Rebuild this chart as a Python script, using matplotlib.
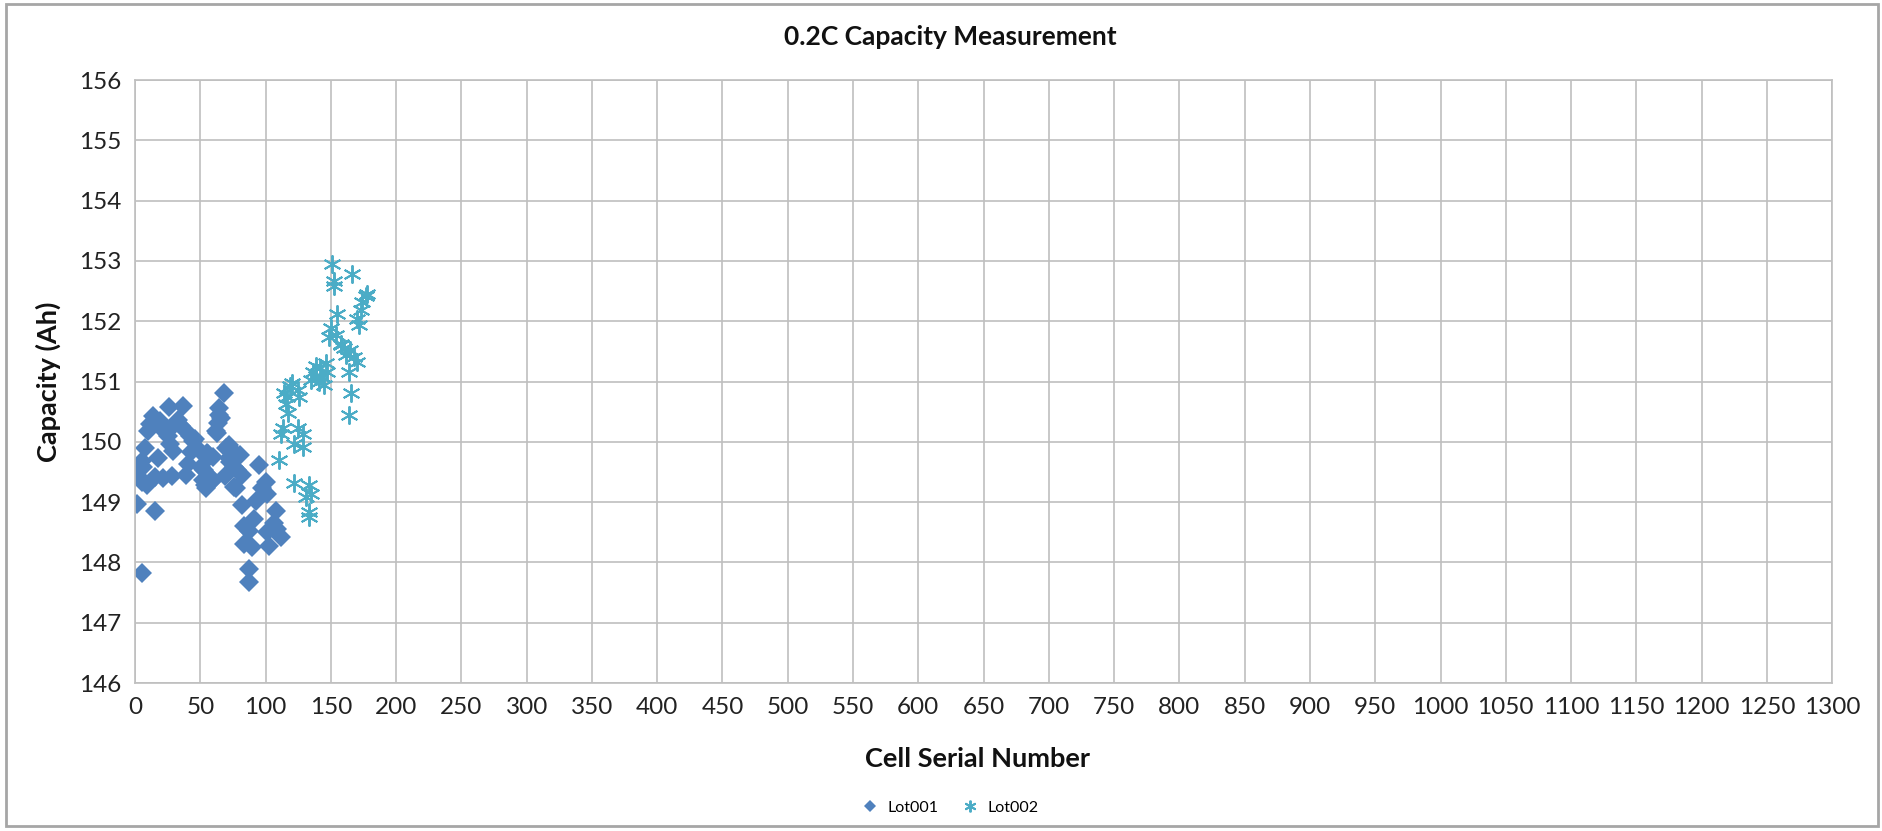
import matplotlib.pyplot as plt
from matplotlib.patches import Rectangle

# Lot001 (diamonds)
lot001_x = [26, 37, 14, 19, 11.4, 10, 33, 35.5, 39, 42, 44.4, 21.6, 25.4, 26.6, 29,
            7.6, 17.8, 5, 6.3, 1.3, 2.5, 5, 9, 15, 21.6, 28, 39, 40.3, 43, 49.5,
            52, 67.8, 64.7, 64, 63.5, 62, 53, 54.6, 59.6, 69.8, 72, 76, 76,
            1.3, 15, 5, 55.8, 50.8,
            62.8, 55, 60, 71.8, 75.6, 80.8, 73, 78, 82, 69, 60, 53.8, 77,
            94.9, 100, 97.4, 101, 92.3, 82, 91, 83.3, 87, 83.3, 89.7, 102.6,
            107.7, 106.4, 109, 111.5, 101, 87, 87, 31, 46, 57, 66]
lot001_y = [150.57, 150.6, 150.43, 150.34, 150.29, 150.18, 150.37, 150.26, 150.18, 150.1,
            150.02, 150.2, 150.1, 149.96, 149.85,
            149.9, 149.74, 149.69, 149.58, 149.55, 149.44, 149.34, 149.28, 149.42, 149.4,
            149.44, 149.45, 149.63, 149.83, 149.85,
            149.36, 150.81, 150.56, 150.45, 150.32, 150.18, 149.53, 149.23, 149.36, 149.9,
            149.74, 149.58, 149.25,
            148.97, 148.86, 147.82, 149.8, 149.58,
            150.14, 149.81, 149.75, 149.95, 149.84, 149.78, 149.67, 149.54, 149.45, 149.43,
            149.37, 149.29, 149.23,
            149.62, 149.34, 149.23, 149.13, 149.02, 148.95, 148.72, 148.61, 148.52, 148.31,
            148.25, 148.28,
            148.85, 148.66, 148.55, 148.42, 148.5, 147.9, 147.68, 150.3, 150.05, 149.75, 150.4]

# Lot002 (asterisks)
lot002_x = [150.8, 166, 152.6, 152.6, 176.8, 174, 173, 155, 170.4, 171.7, 150, 148.7,
            153.8, 157.7, 160, 165, 161.5, 168, 170.4, 164, 138.5, 142, 136, 143.6,
            141, 147.4, 119, 124.5, 114, 165.3, 134.7,
            120.6, 145, 116.8, 125.7, 115.6, 117, 164, 113, 124.5, 111.8, 128.3, 122,
            128.3, 110.4, 122, 133.4, 134.7, 131, 133.4, 133.4, 178, 158, 146, 139]
lot002_y = [152.95, 152.79, 152.67, 152.59, 152.42, 152.32, 152.18, 152.12, 152.04, 151.93,
            151.88, 151.74, 151.77, 151.63, 151.55, 151.52, 151.44, 151.41, 151.33, 151.16,
            151.25, 151.22, 151.16, 151.08, 151.0, 151.16, 150.92, 150.86, 150.81, 150.81,
            151.03,
            150.97, 150.94, 150.75, 150.75, 150.62, 150.48, 150.45, 150.23, 150.23, 150.13,
            150.13, 149.96, 149.91, 149.7, 149.31, 149.28, 149.14, 149.09, 148.84, 148.76,
            152.45, 151.6, 151.3, 151.1]

x_ticks = list(range(0, 1301, 50))
y_ticks = list(range(146, 157))

plt.rcParams['font.family'] = ['Lato', 'DejaVu Sans']

fig = plt.figure(figsize=(18.83, 8.31), dpi=100)
ax = fig.add_axes([0.0717, 0.178, 0.9013, 0.7257])

ax.plot(lot001_x, lot001_y, linestyle='none', marker='D', markersize=10,
        color='#4F81BD', markeredgewidth=0, label='Lot001')
ax.plot(lot002_x, lot002_y, linestyle='none', marker=(6, 2, 0), markersize=13,
        color='#4BACC6', markeredgewidth=1.4, label='Lot002')

ax.set_xlim(0, 1300)
ax.set_ylim(146, 156)
ax.set_xticks(x_ticks)
ax.set_yticks(y_ticks)
ax.tick_params(length=0, labelsize=17.5, pad=10, colors='#222222')
ax.grid(True, color='#bfbfbf', linewidth=1.2)
ax.set_axisbelow(True)
for s in ax.spines.values():
    s.set_color('#bfbfbf')
    s.set_linewidth(1.2)

fig.text(0.5045, 0.955, '0.2C Capacity Measurement', ha='center', va='center',
         fontsize=19, fontweight='bold', color='#111111')
fig.text(0.519, 0.0866, 'Cell Serial Number', ha='center', va='center',
         fontsize=19.5, fontweight='bold', color='#111111')
fig.text(0.0255, 0.54, 'Capacity (Ah)', ha='center', va='center', rotation=90,
         fontsize=19.5, fontweight='bold', color='#111111')

fig.legend(loc='center', bbox_to_anchor=(0.5025, 0.028), ncol=2, frameon=False,
           fontsize=11.5, handletextpad=0.1, columnspacing=1.0, markerscale=0.65)

fig.add_artist(Rectangle((0.0032, 0.006), 0.994, 0.989, transform=fig.transFigure,
                         fill=False, edgecolor='#a6a6a6', linewidth=2))

fig.savefig('out.png', dpi=100, facecolor='white')
